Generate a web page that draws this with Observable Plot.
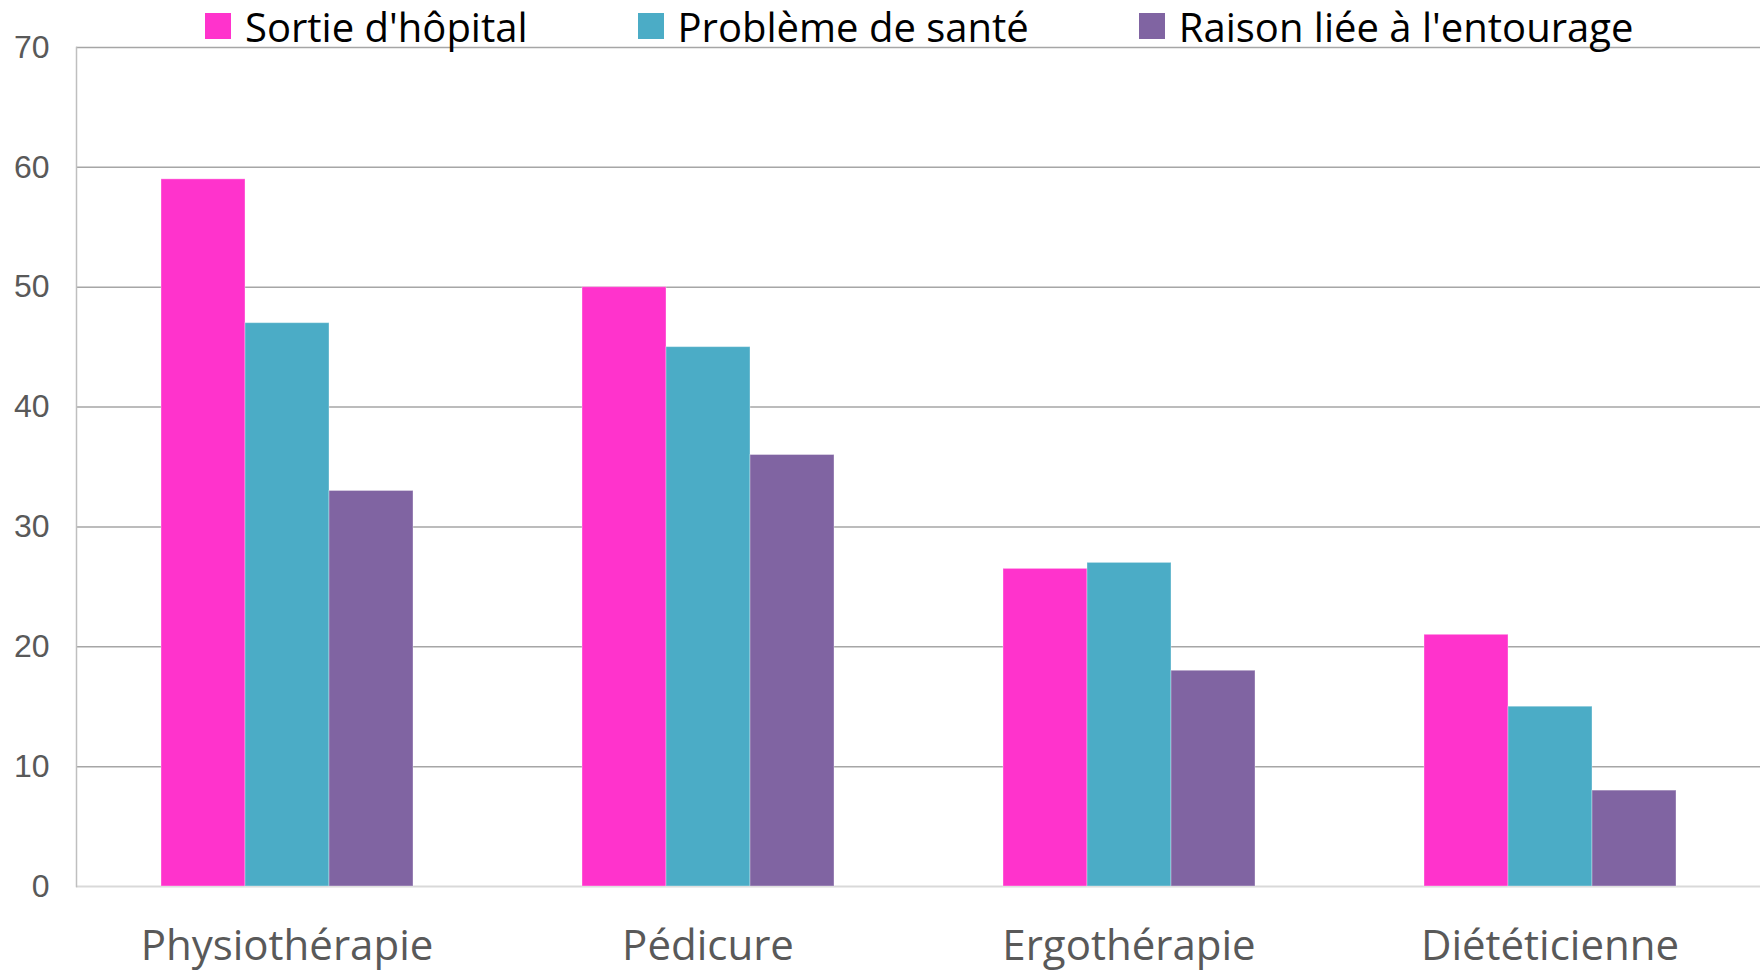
<!DOCTYPE html>
<html>
<head>
<meta charset="utf-8">
<script src="https://cdn.jsdelivr.net/npm/d3@7"></script>
<script src="https://cdn.jsdelivr.net/npm/@observablehq/plot@0.6"></script>
<style>
  html, body { margin: 0; padding: 0; background: #fff; overflow: hidden; }
  #wrap { position: relative; width: 1761px; height: 971px; }
  #legend { position: absolute; left: 205px; top: 7px; display: flex; gap: 110px;
            font-family: "Open Sans", sans-serif; font-size: 40px; line-height: 40px; color: #000; }
  .item { display: flex; align-items: center; gap: 14px; white-space: nowrap; }
  .sw { width: 26px; height: 26px; margin-top: -2px; flex: none; }
</style>
</head>
<body>
<div id="wrap"><div id="legend"></div></div>
<script>
const categories = ["Physiothérapie", "Pédicure", "Ergothérapie", "Diététicienne"];
const seriesNames = ["Sortie d'hôpital", "Problème de santé", "Raison liée à l'entourage"];
const sortieHopital = [59, 50, 26.5, 21];
const problemeSante = [47, 45, 27, 15];
const raisonEntourage = [33, 36, 18, 8];
const seriesColors = ["#FF33CC", "#4BACC6", "#8064A2"];
const yTicks = [0, 10, 20, 30, 40, 50, 60, 70];

const seriesValues = [sortieHopital, problemeSante, raisonEntourage];
const data = [];
categories.forEach((c, i) => {
  seriesNames.forEach((s, j) => data.push({cat: c, series: s, value: seriesValues[j][i]}));
});

const chart = Plot.plot({
  width: 1761,
  height: 971,
  marginLeft: 75,
  marginRight: 0,
  marginTop: 47,
  marginBottom: 85,
  fx: {domain: categories, padding: 0},
  x: {domain: seriesNames, paddingInner: 0, paddingOuter: 1, axis: null},
  y: {domain: [0, 70]},
  color: {domain: seriesNames, range: seriesColors},
  marks: [
    Plot.gridY(yTicks.filter(t => t > 0), {stroke: "#a6a6a6", strokeOpacity: 1, strokeWidth: 1.5}),
    Plot.ruleY([0], {stroke: "#d9d9d9", strokeWidth: 2}),
    Plot.frame({anchor: "left", facetAnchor: "left", stroke: "#bfbfbf", strokeWidth: 1.5}),
    Plot.barY(data, {fx: "cat", x: "series", y: "value", fill: "series", inset: 0,
                     stroke: "#ffffff", strokeOpacity: 0.35, strokeWidth: 1}),
    Plot.axisY({ticks: yTicks, tickSize: 0, tickPadding: 27, fontSize: 32,
                fontFamily: "'Liberation Sans', Arial, sans-serif", color: "#595959", label: null}),
    Plot.axisFx({anchor: "bottom", tickSize: 0, tickPadding: 44, fontSize: 42,
                 fontFamily: "'Open Sans', sans-serif", color: "#595959", label: null})
  ]
});
document.getElementById("wrap").prepend(chart);

const legend = document.getElementById("legend");
seriesNames.forEach((s, j) => {
  const item = document.createElement("div");
  item.className = "item";
  const sw = document.createElement("span");
  sw.className = "sw";
  sw.style.background = seriesColors[j];
  const label = document.createElement("span");
  label.textContent = s;
  item.append(sw, label);
  legend.append(item);
});
</script>
</body>
</html>
